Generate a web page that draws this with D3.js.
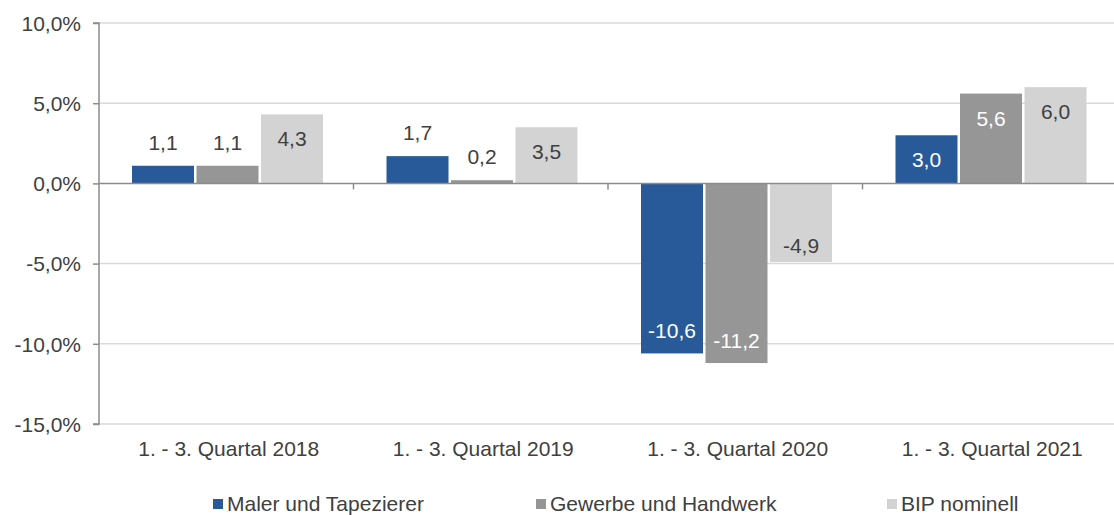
<!DOCTYPE html>
<html>
<head>
<meta charset="utf-8">
<script src="https://cdn.jsdelivr.net/npm/d3@7"></script>
<style>
  body { margin: 0; background: #fff; }
  svg { display: block; font-family: "Liberation Sans", Arial, sans-serif; }
</style>
</head>
<body>
<svg></svg>
<script>
// Daten
const categories = ['1. - 3. Quartal 2018', '1. - 3. Quartal 2019', '1. - 3. Quartal 2020', '1. - 3. Quartal 2021'];
const seriesNames = ['Maler und Tapezierer', 'Gewerbe und Handwerk', 'BIP nominell'];
const maler = [1.1, 1.7, -10.6, 3.0];
const gewerbe = [1.1, 0.2, -11.2, 5.6];
const bip = [4.3, 3.5, -4.9, 6.0];
const yTicks = [10, 5, 0, -5, -10, -15];

const colors = ['#285a9a', '#969696', '#d3d3d3'];
const labelColors = ['#ffffff', '#ffffff', '#404040'];
const textColor = '#404040';

const width = 1114;
const height = 515;

const svg = d3.select("svg")
    .attr("width", width)
    .attr("height", height);

const y = d3.scaleLinear()
    .domain([-15, 10])
    .range([424, 23]);

const x0 = d3.scaleBand()
    .domain(categories)
    .range([99, 1117]);

const x1 = d3.scaleBand()
    .domain(seriesNames)
    .range([33, 226.5]);

const barW = x1.step() - 2.5;
const fmt = v => d3.format(".1f")(v).replace('.', ',').replace('\u2212', '-');

// Gitterlinien
svg.append("g")
    .selectAll("line")
    .data(yTicks.filter(t => t !== 0))
    .enter().append("line")
    .attr("x1", 99).attr("x2", width)
    .attr("y1", d => y(d)).attr("y2", d => y(d))
    .attr("stroke", "#d9d9d9")
    .attr("stroke-width", 1.5);

// y-Achse
const yAxis = svg.append("g")
    .attr("transform", "translate(99,0)")
    .call(d3.axisLeft(y).tickValues(yTicks).tickSize(6).tickPadding(12)
        .tickFormat(d => fmt(d) + '%'));
yAxis.select(".domain").attr("stroke", "#8c8c8c").attr("stroke-width", 1.5)
    .attr("d", `M-6,${y(10)}H0V${y(-15)}H-6`);
yAxis.selectAll(".tick line").attr("stroke", "#8c8c8c").attr("stroke-width", 1.5);
yAxis.selectAll(".tick text")
    .attr("font-size", 21).attr("font-family", "Liberation Sans, Arial, sans-serif")
    .attr("fill", textColor).attr("dy", "0.35em");

// Balken
const data = categories.map((c, i) => ({
    cat: c,
    values: [maler[i], gewerbe[i], bip[i]]
}));

const group = svg.selectAll("g.grp")
    .data(data)
    .enter().append("g")
    .attr("class", "grp")
    .attr("transform", d => `translate(${x0(d.cat)},0)`);

const bars = group.selectAll("g.bar")
    .data(d => d.values.map((v, j) => ({ v, j, name: seriesNames[j] })))
    .enter().append("g")
    .attr("class", "bar");

bars.append("rect")
    .attr("x", d => x1(d.name))
    .attr("width", barW)
    .attr("y", d => y(Math.max(0, d.v)))
    .attr("height", d => Math.abs(y(d.v) - y(0)))
    .attr("fill", d => colors[d.j]);

bars.append("text")
    .attr("x", d => x1(d.name) + barW / 2)
    .attr("text-anchor", "middle")
    .attr("font-size", 21)
    .attr("y", d => {
        if (Math.abs(d.v) < 2.5) return y(d.v) - 16;
        if (d.v > 0) return y(d.v) + 32;
        return y(d.v) - (d.j === 2 ? 9 : 15);
    })
    .attr("fill", d => Math.abs(d.v) < 2.5 ? textColor : labelColors[d.j])
    .text(d => fmt(d.v));

// Nulllinie
svg.append("line")
    .attr("x1", 99).attr("x2", width)
    .attr("y1", y(0)).attr("y2", y(0))
    .attr("stroke", "#8c8c8c")
    .attr("stroke-width", 1.5);

// Kategorie-Teilstriche
svg.append("g")
    .selectAll("line")
    .data(categories.slice(1))
    .enter().append("line")
    .attr("x1", d => x0(d)).attr("x2", d => x0(d))
    .attr("y1", y(0)).attr("y2", y(0) + 6)
    .attr("stroke", "#8c8c8c")
    .attr("stroke-width", 1.5);

// Kategorienbeschriftung
svg.append("g")
    .selectAll("text")
    .data(categories)
    .enter().append("text")
    .attr("x", d => x0(d) + 33 + 193.5 / 2)
    .attr("y", 456)
    .attr("text-anchor", "middle")
    .attr("font-size", 21)
    .attr("fill", textColor)
    .text(d => d);

// Legende
const legendX = [213, 536, 887];
const legend = svg.append("g")
    .selectAll("g")
    .data(seriesNames)
    .enter().append("g")
    .attr("transform", (d, i) => `translate(${legendX[i]},499)`);

legend.append("rect")
    .attr("width", 10).attr("height", 10)
    .attr("fill", (d, i) => colors[i]);

legend.append("text")
    .attr("x", 14)
    .attr("y", 12)
    .attr("font-size", 21)
    .attr("fill", textColor)
    .text(d => d);
</script>
</body>
</html>
